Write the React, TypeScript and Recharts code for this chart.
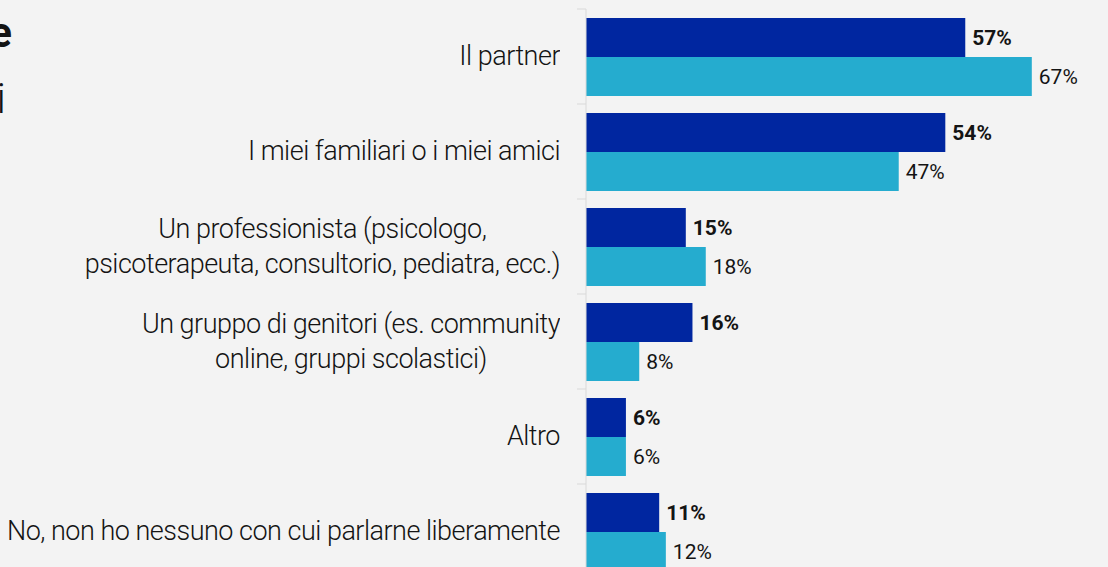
import { BarChart, Bar, XAxis, YAxis, LabelList } from "recharts";

const categories = [
  "Il partner",
  "I miei familiari o i miei amici",
  "Un professionista (psicologo,\npsicoterapeuta, consultorio, pediatra, ecc.)",
  "Un gruppo di genitori (es. community\nonline, gruppi scolastici)",
  "Altro",
  "No, non ho nessuno con cui parlarne liberamente",
];
const seriesDark = [57, 54, 15, 16, 6, 11];
const seriesLight = [67, 47, 18, 8, 6, 12];

const data = categories.map((label, i) => ({
  label,
  dark: seriesDark[i],
  light: seriesLight[i],
}));

const WIDTH = 1108;
const HEIGHT = 590;
const MARGIN = { top: 9, right: 3, bottom: 11, left: 0 };
const BAND = (HEIGHT - MARGIN.top - MARGIN.bottom) / categories.length;
const TICK_MARGIN = 26;
const TICK_LEN = 9;

const DARK = "#0026a0";
const LIGHT = "#25accf";
const GRID = "#d9d9d9";
const TEXT = "#141414";

function CategoryTick(props: any) {
  const { x, y, payload } = props;
  const axisX = x + TICK_MARGIN;
  return (
    <g>
      <line x1={axisX - TICK_LEN} x2={axisX} y1={y - BAND / 2} y2={y - BAND / 2} stroke={GRID} />
      <foreignObject x={x - 560} y={y - BAND / 2} width={560} height={BAND}>
        <div
          style={{
            display: "flex",
            justifyContent: "flex-end",
            alignItems: "center",
            height: "100%",
          }}
        >
          <div
            style={{
              textAlign: "center",
              whiteSpace: "pre-line",
              fontFamily: "Roboto",
              fontWeight: 300,
              fontSize: 27,
              letterSpacing: "-0.5px",
              lineHeight: "35px",
              color: TEXT,
            }}
          >
            {payload.value}
          </div>
        </div>
      </foreignObject>
    </g>
  );
}

export default function App() {
  return (
    <div
      style={{
        position: "absolute",
        left: 0,
        top: 0,
        width: 1108,
        height: 567,
        overflow: "hidden",
        background: "#f3f3f3",
      }}
    >
      <BarChart
        width={WIDTH}
        height={HEIGHT}
        data={data}
        layout="vertical"
        margin={MARGIN}
        barCategoryGap={9}
        barGap={0}
      >
        <XAxis type="number" domain={[0, 78]} hide />
        <YAxis
          type="category"
          dataKey="label"
          width={586}
          interval={0}
          axisLine={{ stroke: GRID }}
          tickLine={false}
          tickSize={0}
          tickMargin={TICK_MARGIN}
          tick={<CategoryTick />}
        />
        <Bar dataKey="dark" fill={DARK} isAnimationActive={false}>
          <LabelList
            dataKey="dark"
            position="right"
            offset={7}
            formatter={(v: any) => `${v}%`}
            style={{ fontFamily: "Roboto", fontSize: 21, fontWeight: 700, fill: TEXT }}
          />
        </Bar>
        <Bar dataKey="light" fill={LIGHT} isAnimationActive={false}>
          <LabelList
            dataKey="light"
            position="right"
            offset={7}
            formatter={(v: any) => `${v}%`}
            style={{ fontFamily: "Roboto", fontSize: 21, fontWeight: 400, fill: TEXT }}
          />
        </Bar>
      </BarChart>
      <svg
        width={60}
        height={130}
        style={{ position: "absolute", left: 0, top: 0 }}
      >
        <text x={12} y={47} textAnchor="end" fontFamily="Roboto" fontWeight={700} fontSize={42} fill={TEXT}>
          e
        </text>
        <text x={6} y={113} textAnchor="end" fontFamily="Roboto" fontWeight={300} fontSize={42} fill={TEXT}>
          i
        </text>
      </svg>
    </div>
  );
}
